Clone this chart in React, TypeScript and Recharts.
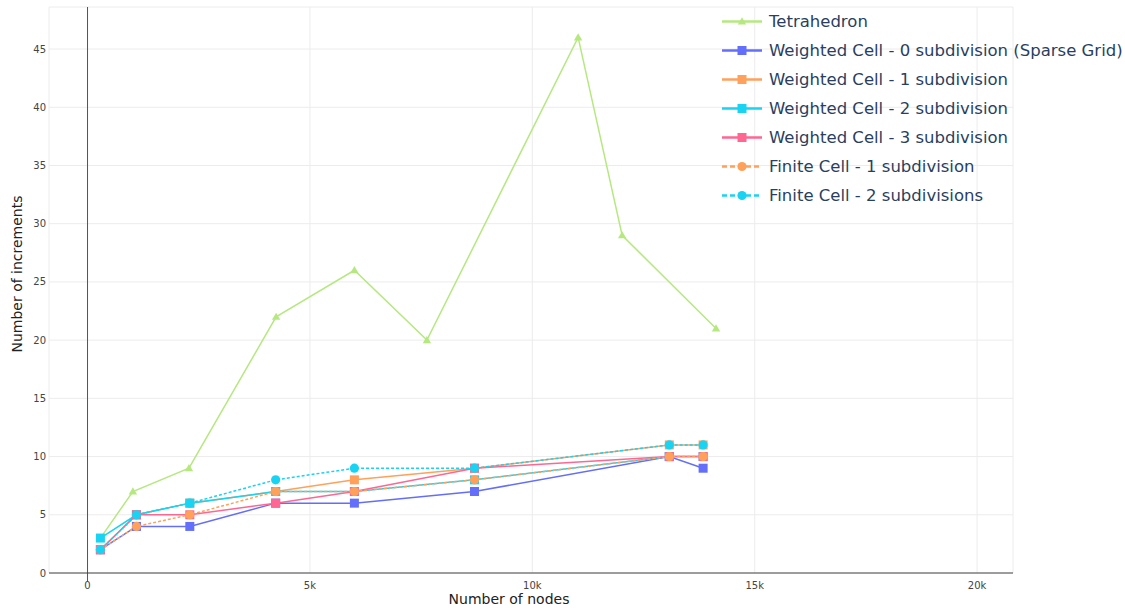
import React from 'react';
import { LineChart, Line, XAxis, YAxis, CartesianGrid, ReferenceLine, Legend } from 'recharts';

const tetraNodes = [290, 1020, 2280, 4240, 6000, 7630, 11030, 12020, 14130];
const tetraIncrements = [3, 7, 9, 22, 26, 20, 46, 29, 21];
const cellNodes = [290, 1100, 2300, 4230, 6000, 8700, 13080, 13840];
const weighted0 = [2, 4, 4, 6, 6, 7, 10, 9];
const weighted1 = [2, 5, 6, 7, 8, 9, 11, 11];
const weighted2 = [3, 5, 6, 7, 7, 8, 10, 10];
const weighted3 = [2, 5, 5, 6, 7, 9, 10, 10];
const finite1 = [2, 4, 5, 7, 7, 8, 10, 10];
const finite2 = [2, 5, 6, 8, 9, 9, 11, 11];
const xTicks = [0, 5000, 10000, 15000, 20000];
const yTicks = [0, 5, 10, 15, 20, 25, 30, 35, 40, 45];
const seriesNames = [
  'Tetrahedron',
  'Weighted Cell - 0 subdivision (Sparse Grid)',
  'Weighted Cell - 1 subdivision',
  'Weighted Cell - 2 subdivision',
  'Weighted Cell - 3 subdivision',
  'Finite Cell - 1 subdivision',
  'Finite Cell - 2 subdivisions',
];

const toPoints = (xs: number[], ys: number[]) => xs.map((x, i) => ({ x, y: ys[i] }));

type Marker = 'triangle' | 'square' | 'circle';
const series: { name: string; data: { x: number; y: number }[]; color: string; marker: Marker; dashed: boolean }[] = [
  { name: seriesNames[0], data: toPoints(tetraNodes, tetraIncrements), color: '#b6e880', marker: 'triangle', dashed: false },
  { name: seriesNames[1], data: toPoints(cellNodes, weighted0), color: '#636efa', marker: 'square', dashed: false },
  { name: seriesNames[2], data: toPoints(cellNodes, weighted1), color: '#FFA15A', marker: 'square', dashed: false },
  { name: seriesNames[3], data: toPoints(cellNodes, weighted2), color: '#19d3f3', marker: 'square', dashed: false },
  { name: seriesNames[4], data: toPoints(cellNodes, weighted3), color: '#FF6692', marker: 'square', dashed: false },
  { name: seriesNames[5], data: toPoints(cellNodes, finite1), color: '#FFA15A', marker: 'circle', dashed: true },
  { name: seriesNames[6], data: toPoints(cellNodes, finite2), color: '#19d3f3', marker: 'circle', dashed: true },
];

const drawMarker = (marker: Marker, color: string, cx: number, cy: number, key?: any) => {
  if (marker === 'square') {
    return <rect key={key} x={cx - 4.5} y={cy - 4.5} width={9} height={9} fill={color} />;
  }
  if (marker === 'circle') {
    return <circle key={key} cx={cx} cy={cy} r={4.6} fill={color} />;
  }
  return <path key={key} d={`M${cx},${cy - 4.2} L${cx + 4.2},${cy + 3} L${cx - 4.2},${cy + 3} Z`} fill={color} />;
};

const makeDot = (marker: Marker, color: string) => (props: any) => {
  const { cx, cy, index } = props;
  if (cx == null || cy == null) return <g key={index} />;
  return drawMarker(marker, color, cx, cy, index);
};

const LegendContent = () => (
  <div style={{ fontFamily: 'DejaVu Sans', fontSize: 16.5, color: '#2a3f5f' }}>
    {series.map((s) => (
      <div key={s.name} style={{ display: 'flex', alignItems: 'center', height: 29, whiteSpace: 'nowrap' }}>
        <svg width={51} height={29} style={{ flex: 'none' }}>
          <line x1={4} x2={44} y1={14.5} y2={14.5} stroke={s.color} strokeWidth={2.5} strokeDasharray={s.dashed ? '5 3' : undefined} />
          {drawMarker(s.marker, s.color, 24, 14.5)}
        </svg>
        <span>{s.name}</span>
      </div>
    ))}
  </div>
);

const xFmt = (v: number) => (v === 0 ? '0' : `${v / 1000}k`);

export default function App() {
  return (
    <div style={{ position: 'absolute', left: 0, top: 0, width: 1125, height: 610, background: '#fff', fontFamily: 'DejaVu Sans' }}>
      <LineChart width={1125} height={610} margin={{ top: 7, right: 112, left: 9, bottom: 7 }}>
        <CartesianGrid stroke="#ececec" strokeWidth={1} />
        <XAxis
          dataKey="x"
          type="number"
          domain={[-866, 20807]}
          ticks={xTicks}
          tickFormatter={xFmt}
          axisLine={{ stroke: '#444', strokeWidth: 1 }}
          tickLine={false}
          tickSize={0}
          tickMargin={9}
          height={30}
          allowDataOverflow
          tick={{ fontSize: 10, fill: '#444', fontFamily: 'DejaVu Sans' }}
          label={{
            content: () => (
              <text x={509} y={599} textAnchor="middle" dominantBaseline="central" fontSize={14} fill="#222" fontFamily="DejaVu Sans">
                Number of nodes
              </text>
            ),
          }}
        />
        <YAxis
          type="number"
          domain={[0, 48.61]}
          ticks={yTicks}
          axisLine={false}
          tickLine={false}
          tickSize={0}
          tickMargin={3}
          width={40}
          allowDataOverflow
          tick={{ fontSize: 10, fill: '#444', fontFamily: 'DejaVu Sans' }}
          label={{
            content: () => (
              <text x={17} y={274} textAnchor="middle" dominantBaseline="central" fontSize={14} fill="#222" fontFamily="DejaVu Sans" transform="rotate(-90 17 274)">
                Number of increments
              </text>
            ),
          }}
        />
        <ReferenceLine segment={[{ x: 0, y: -0.75 }, { x: 0, y: 48.61 }]} stroke="#555" strokeWidth={1} ifOverflow="visible" />
        {series.map((s) => (
          <Line
            key={s.name}
            name={s.name}
            data={s.data}
            dataKey="y"
            type="linear"
            stroke={s.color}
            strokeWidth={1.5}
            strokeDasharray={s.dashed ? '3 2' : undefined}
            dot={makeDot(s.marker, s.color)}
            activeDot={false}
            isAnimationActive={false}
          />
        ))}
        <Legend
          layout="vertical"
          align="center"
          verticalAlign="middle"
          content={LegendContent}
          wrapperStyle={{ top: 7, left: 718, width: 407, height: 205 }}
        />
      </LineChart>
    </div>
  );
}
